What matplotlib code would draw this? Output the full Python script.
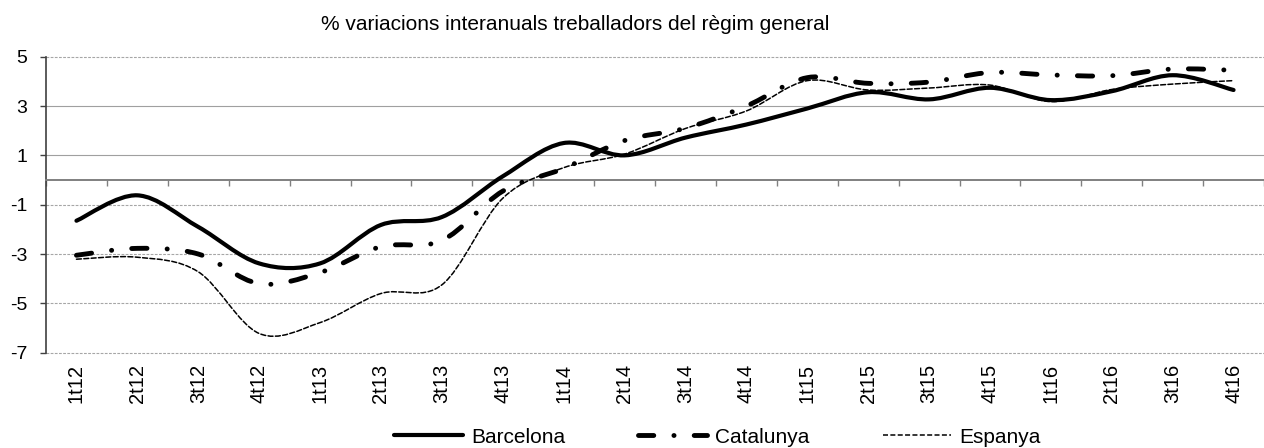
import matplotlib
matplotlib.use('Agg')
import matplotlib.pyplot as plt
from matplotlib.path import Path
from matplotlib.patches import PathPatch
from matplotlib.lines import Line2D
import numpy as np

plt.rcParams['font.family'] = ['Liberation Sans', 'DejaVu Sans']
plt.rcParams['lines.scale_dashes'] = False
plt.rcParams['axes.unicode_minus'] = False

# Dades: variació interanual (%) per trimestre
trimestres = ['1t12', '2t12', '3t12', '4t12', '1t13', '2t13', '3t13', '4t13',
              '1t14', '2t14', '3t14', '4t14', '1t15', '2t15', '3t15', '4t15',
              '1t16', '2t16', '3t16', '4t16']
barcelona = [-1.65, -0.62, -1.9, -3.38, -3.38, -1.82, -1.5, 0.15, 1.5, 1.0,
             1.72, 2.25, 2.9, 3.56, 3.27, 3.74, 3.24, 3.6, 4.25, 3.65]
catalunya = [-3.05, -2.77, -3.0, -4.2, -3.75, -2.7, -2.45, -0.45, 0.47, 1.6,
             2.1, 3.0, 4.15, 3.92, 3.97, 4.36, 4.26, 4.23, 4.5, 4.45]
espanya = [-3.21, -3.13, -3.72, -6.22, -5.78, -4.6, -4.25, -0.74, 0.5, 1.05,
           2.09, 2.8, 4.03, 3.65, 3.73, 3.85, 3.18, 3.67, 3.89, 4.03]


def smooth_path(x, y):
    # corba suavitzada tipus Excel (Bezier amb tangents Catmull-Rom)
    pts = np.column_stack([x, y]).astype(float)
    n = len(pts)
    verts = [pts[0]]
    codes = [Path.MOVETO]
    for i in range(n - 1):
        p0 = pts[max(i - 1, 0)]
        p1 = pts[i]
        p2 = pts[i + 1]
        p3 = pts[min(i + 2, n - 1)]
        verts += [p1 + (p2 - p0) / 6, p2 - (p3 - p1) / 6, p2]
        codes += [Path.CURVE4] * 3
    return Path(verts, codes)


fig = plt.figure(figsize=(12.64, 4.48), dpi=100)
ax = fig.add_axes([46 / 1264, (448 - 352.7) / 448, 1218 / 1264, 296 / 448])

x = np.arange(len(trimestres))
estils = [
    (barcelona, dict(lw=3.0, linestyle='-')),
    (catalunya, dict(lw=3.5, linestyle=(0, (11, 14.5, 0.1, 14.5)))),
    (espanya, dict(lw=1.1, linestyle=(0, (3.6, 1.7)))),
]
for serie, st in estils:
    patch = PathPatch(smooth_path(x, serie), fill=False, edgecolor='black',
                      capstyle='round', joinstyle='round', zorder=3, **st)
    ax.add_patch(patch)

ax.set_xlim(-0.5, len(trimestres) - 0.5)
ax.set_ylim(-7, 5)
ax.set_yticks([5, 3, 1, -1, -3, -5, -7])

# graella
ax.yaxis.grid(True, color='#a6a6a6', linestyle=(0, (2, 1)), lw=0.8)
for gl, v in zip(ax.get_ygridlines(), ax.get_yticks()):
    gl.set_clip_on(False)
    if v in (1, 3):
        gl.set_linestyle('-')
        gl.set_color('#a0a0a0')
ax.set_axisbelow(True)

for s in ['top', 'right']:
    ax.spines[s].set_visible(False)
ax.spines['left'].set_color('#404040')
ax.spines['left'].set_linewidth(1.2)
ax.spines['bottom'].set_position(('data', 0))
ax.spines['bottom'].set_color('#808080')
ax.spines['bottom'].set_linewidth(1.4)

ax.set_xticks(np.arange(-0.5, len(trimestres), 1))
ax.tick_params(axis='x', direction='out', length=4, width=1, color='#808080',
               labelbottom=False)
ax.tick_params(axis='y', direction='out', length=4.5, width=1, color='#404040',
               labelsize=14, pad=9)

sec = ax.secondary_xaxis('bottom')
sec.set_xticks(x, labels=trimestres, rotation=90)
sec.tick_params(length=0, pad=8, labelsize=14.5)
sec.spines['bottom'].set_visible(False)

fig.text(575 / 1264, 1 - 24 / 448,
         '% variacions interanuals treballadors del règim general',
         ha='center', va='center', fontsize=15)

handles = [
    Line2D([], [], color='black', lw=3.0, solid_capstyle='round'),
    Line2D([], [], color='black', lw=3.5, linestyle=(0, (11, 14.5, 0.1, 14.5)),
           dash_capstyle='round'),
    Line2D([], [], color='black', lw=1.1, linestyle=(0, (3.6, 1.7))),
]
fig.legend(handles, ['Barcelona', 'Catalunya', 'Espanya'], loc='center',
           bbox_to_anchor=(717.5 / 1264, 11 / 448), ncol=3, frameon=False,
           fontsize=15, handlelength=3.3, handletextpad=0.4,
           columnspacing=3.5, borderpad=0)

fig.savefig('out.png', dpi=100)
